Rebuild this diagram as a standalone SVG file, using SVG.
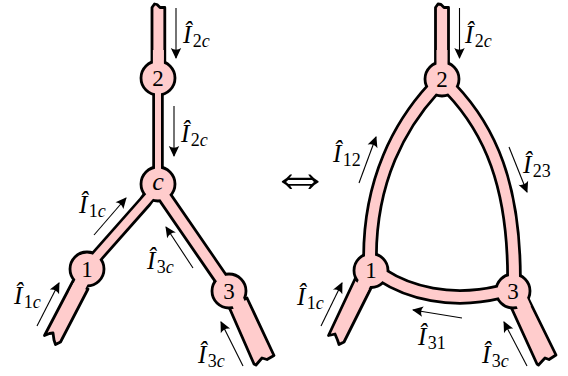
<svg xmlns="http://www.w3.org/2000/svg" width="568" height="376" viewBox="0 0 568 376">
<style>
.stub{fill:#ffcccc;stroke:#000;stroke-width:2.8;stroke-linejoin:round}
.case{fill:none;stroke:#000}
.pk{fill:none;stroke:#ffcccc}
.node circle{fill:#ffcccc;stroke:#000;stroke-width:2.8}
.node text{font-family:"Liberation Serif",serif;font-size:23px;text-anchor:middle;fill:#000}
.cur line{stroke:#000;stroke-width:1.1;marker-end:url(#ah)}
.m{font-family:"Liberation Serif",serif;font-style:italic;font-size:25px;fill:#000}
.s{font-size:18px;font-style:normal}
.i{font-style:italic}
</style>
<defs>
<marker id="ah" markerUnits="userSpaceOnUse" markerWidth="12" markerHeight="12" refX="11" refY="6" orient="auto" viewBox="0 0 12 12"><path d="M12 6L1 .8Q4.5 6 1 11.2Z" fill="#000"/></marker>
</defs>
<g id="connectors-casing">
<path class="stub" d="M152 62V7.5L154.5 4L157 4.5L160 7.5H164.8V62Z"/>
<path class="stub" d="M44.5 335.5L73 281L88 289L60.5 342L55.5 344.5L54 340L53 333L49.5 333.5Z"/>
<path class="stub" d="M229 307L247 298L274 355.5L267 359.5L262 358L256 365L254 364Z"/>
<path class="stub" d="M435.5 62V7.5L438 4L441 4.5L444 7.5H448.5V62Z"/>
<path class="stub" d="M328.5 335.5L355 279L371 288L344 342L339 344.5L337.5 340L335 334L331 335Z"/>
<path class="stub" d="M511 307L528 298L556 355L549 359.5L545 358L538.500 365L537 364Z"/>
<g class="case" stroke-width="11.500">
<path d="M158 77V184"/>
</g>
<g class="case" stroke-width="13.500">
<path d="M87 269L98 255L145 202L158 184"/>
</g>
<g class="case" stroke-width="15.500">
<path d="M158 184L166.500 199.500L218.500 275L229 291"/>
<path d="M433 89C400 125 370 180 370 257"/>
<path d="M451 89C490 130 514 185 514 278"/>
<path d="M382 275C408 292 450 304 500 292"/>
</g>
</g>
<g id="node-1" class="node"><circle cx="87" cy="269" r="17"/><text x="87" y="276.500">1</text></g>
<g id="node-2" class="node"><circle cx="158" cy="78" r="17"/><text x="158" y="85.500">2</text></g>
<g id="node-c" class="node"><circle cx="158" cy="184" r="17"/><text x="158" y="190" font-style="italic" style="font-size:26px">c</text></g>
<g id="node-3" class="node"><circle cx="229" cy="291" r="17"/><text x="229" y="298.500">3</text></g>
<g id="node-1b" class="node"><circle cx="371" cy="270.500" r="17"/><text x="371" y="278">1</text></g>
<g id="node-2b" class="node"><circle cx="442" cy="79" r="17"/><text x="442" y="86.500">2</text></g>
<g id="node-3b" class="node"><circle cx="513" cy="291" r="17"/><text x="513" y="298.500">3</text></g>
<g id="connectors-fill">
<g class="pk" stroke-width="6">
<path d="M158 90V172"/>
</g>
<g class="pk" stroke-width="8">
<path d="M95.400 258L150.500 195.500"/>
</g>
<g class="pk" stroke-width="10">
<path d="M164.500 196.500L222 280"/>
<path d="M433 89C400 125 370 180 370 257"/>
<path d="M451 89C490 130 514 185 514 278"/>
<path d="M382 275C408 292 450 304 500 292"/>
</g>
<g class="pk" stroke-width="11">
<path d="M158.400 50V67"/>
<path d="M442 50V68"/>
</g>
<g class="pk" stroke-width="13">
<path d="M75 295L82 281"/>
<path d="M358 295L365 282"/>
<path d="M237 300L241 309"/>
<path d="M521 300L525 309"/>
</g>
</g>
<g id="currents" class="cur">
<line x1="176" y1="8" x2="176" y2="58"/>
<line x1="174" y1="106" x2="174" y2="156"/>
<line x1="94" y1="235" x2="126" y2="198"/>
<line x1="37" y1="326" x2="59" y2="283"/>
<line x1="193" y1="268" x2="166" y2="227"/>
<line x1="243" y1="366" x2="221" y2="322"/>
<line x1="459.500" y1="8" x2="459.500" y2="58"/>
<line x1="359" y1="183" x2="376" y2="137"/>
<line x1="509" y1="147" x2="527" y2="192"/>
<line x1="321" y1="326" x2="342" y2="283"/>
<line x1="462" y1="318" x2="413" y2="310"/>
<line x1="527" y1="366" x2="504" y2="322"/>
</g>
<g id="labels">
<text class="m" x="183" y="43">Î<tspan class="s" dy="4" dx="1.500">2</tspan><tspan class="s i">c</tspan></text>
<text class="m" x="181" y="142">Î<tspan class="s" dy="4" dx="1.500">2</tspan><tspan class="s i">c</tspan></text>
<text class="m" x="79" y="213">Î<tspan class="s" dy="4" dx="1.500">1</tspan><tspan class="s i">c</tspan></text>
<text class="m" x="14" y="304">Î<tspan class="s" dy="4" dx="1.500">1</tspan><tspan class="s i">c</tspan></text>
<text class="m" x="147" y="269">Î<tspan class="s" dy="4" dx="1.500">3</tspan><tspan class="s i">c</tspan></text>
<text class="m" x="198" y="363">Î<tspan class="s" dy="4" dx="1.500">3</tspan><tspan class="s i">c</tspan></text>
<text class="m" x="465" y="43">Î<tspan class="s" dy="4" dx="1.500">2</tspan><tspan class="s i">c</tspan></text>
<text class="m" x="333" y="162">Î<tspan class="s" dy="4" dx="1.500">12</tspan></text>
<text class="m" x="523" y="173">Î<tspan class="s" dy="4" dx="1.500">23</tspan></text>
<text class="m" x="297" y="305">Î<tspan class="s" dy="4" dx="1.500">1</tspan><tspan class="s i">c</tspan></text>
<text class="m" x="418" y="345">Î<tspan class="s" dy="4" dx="1.500">31</tspan></text>
<text class="m" x="482" y="363">Î<tspan class="s" dy="4" dx="1.500">3</tspan><tspan class="s i">c</tspan></text>
<text x="300" y="196" font-family="Liberation Serif,serif" font-size="62" text-anchor="middle">⇔</text>
</g>
</svg>
